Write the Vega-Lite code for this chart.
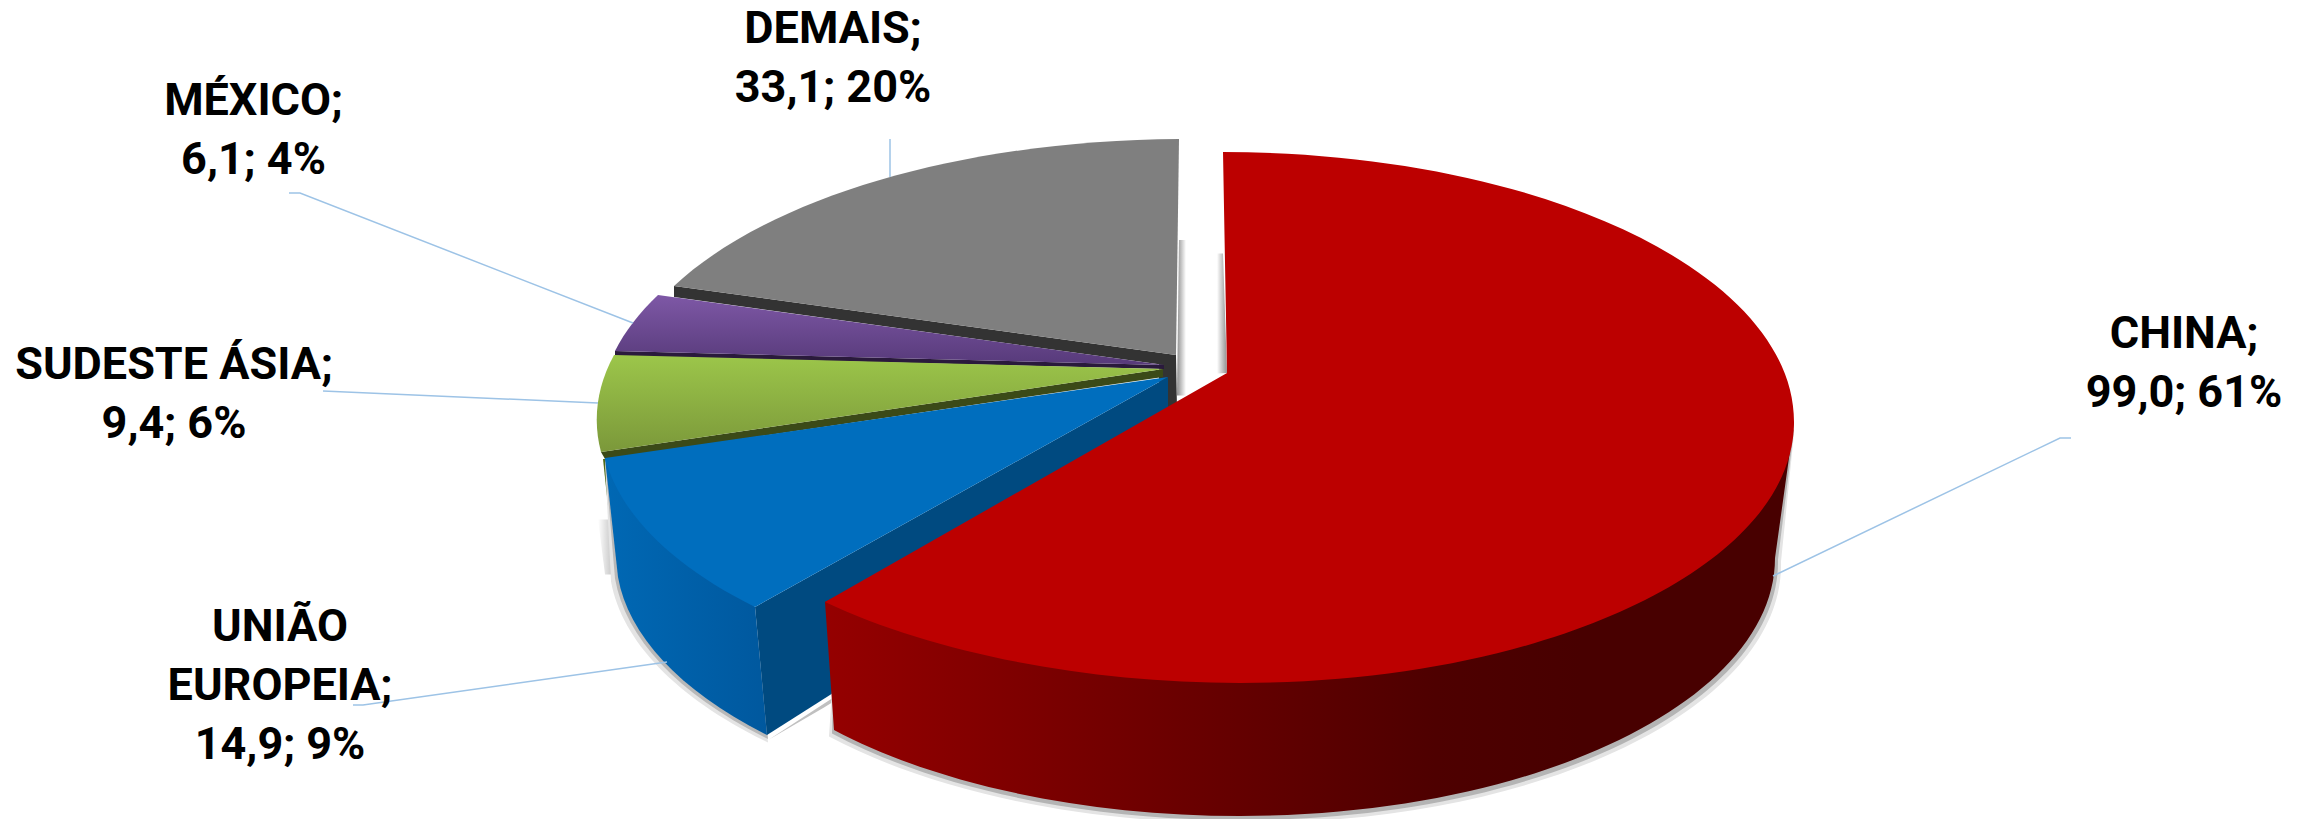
{"$schema":"https://vega.github.io/schema/vega-lite/v6.json","width":2308,"height":819,"padding":0,"autosize":{"type":"none"},"background":"#ffffff","config":{"view":{"stroke":null}},"data":{"values":[{"pais":"CHINA","valor":99.0,"pct":61,"rotulo":"CHINA;\n99,0; 61%"},{"pais":"UNIÃO EUROPEIA","valor":14.9,"pct":9,"rotulo":"UNIÃO\nEUROPEIA;\n14,9; 9%"},{"pais":"SUDESTE ÁSIA","valor":9.4,"pct":6,"rotulo":"SUDESTE ÁSIA;\n9,4; 6%"},{"pais":"MÉXICO","valor":6.1,"pct":4,"rotulo":"MÉXICO;\n6,1; 4%"},{"pais":"DEMAIS","valor":33.1,"pct":20,"rotulo":"DEMAIS;\n33,1; 20%"}]},"layer":[
{"transform":[{"filter":"datum.pais==='DEMAIS'"}],"mark":{"type":"point","filled":true,"opacity":1,"size":4,"strokeWidth":0,"shape":"M25 -169.5 L32 -169.5 L32 -14 L23 -14 Z","fill":{"gradient":"linear","x1":0,"x2":1,"y1":0,"y2":0,"stops":[{"offset":0,"color":"#8f8f8f"},{"offset":1,"color":"#ffffff"}]}}},
{"transform":[{"filter":"datum.pais==='CHINA'"}],"mark":{"type":"point","filled":true,"opacity":1,"size":4,"strokeWidth":0,"shape":"M63 -156 L69 -156 L73 -36.5 L63 -36 Z","fill":{"gradient":"linear","x1":0,"x2":1,"y1":0,"y2":0,"stops":[{"offset":0,"color":"#ffffff"},{"offset":1,"color":"#8f8f8f"}]}}},
{"transform":[{"filter":"datum.pais==='DEMAIS'"}],"mark":{"type":"point","filled":true,"opacity":1,"size":4,"strokeWidth":0,"fill":"#333333","shape":"M-480 -123.5 L22 -54.5 L23 0 L5 0 L5 -45.2 L-480 -112.5 Z"}},
{"transform":[{"filter":"datum.pais==='DEMAIS'"}],"mark":{"type":"point","filled":true,"opacity":1,"size":4,"strokeWidth":0,"fill":"#7f7f7f","shape":"M25 -270.5 L22 -54.5 L-480 -123.5 A571 265 0 0 1 25 -270.5 Z"}},
{"transform":[{"filter":"datum.pais==='MÉXICO'"}],"mark":{"type":"point","filled":true,"opacity":1,"size":4,"strokeWidth":0,"fill":"#2a1a3c","shape":"M-539 -58.5 L10 -44.5 L10 -40.5 L-539 -53.5 Z"}},
{"transform":[{"filter":"datum.pais==='MÉXICO'"}],"mark":{"type":"point","filled":true,"opacity":1,"size":4,"strokeWidth":0,"shape":"M-496 -114.5 L10 -44.5 L-539 -58.5 A571 265 0 0 1 -496 -114.5 Z","fill":{"gradient":"linear","x1":0,"x2":0,"y1":0,"y2":1,"stops":[{"offset":0,"color":"#7e58a6"},{"offset":1,"color":"#573a7a"}]}}},
{"transform":[{"filter":"datum.pais==='SUDESTE ÁSIA'"}],"mark":{"type":"point","filled":true,"opacity":1,"size":4,"strokeWidth":0,"shape":"M-556 110 L-549 165 L-535 165 L-540 110 Z","fill":{"gradient":"linear","x1":0,"x2":1,"y1":0,"y2":0,"stops":[{"offset":0,"color":"#ffffff"},{"offset":0.7,"color":"#c4c4c4"},{"offset":1,"color":"#c4c4c4"}]}}},
{"transform":[{"filter":"datum.pais==='SUDESTE ÁSIA'"}],"mark":{"type":"point","filled":true,"opacity":1,"size":4,"strokeWidth":0,"fill":"#4f6a1a","shape":"M-551 49.5 L-539 162.5 L-530 162.5 L-530 49.5 Z"}},
{"transform":[{"filter":"datum.pais==='SUDESTE ÁSIA'"}],"mark":{"type":"point","filled":true,"opacity":1,"size":4,"strokeWidth":0,"fill":"#3b4a18","shape":"M-553 42.5 L9 -40.5 L9 -32.5 L-549 49.5 Z"}},
{"transform":[{"filter":"datum.pais==='SUDESTE ÁSIA'"}],"mark":{"type":"point","filled":true,"opacity":1,"size":4,"strokeWidth":0,"shape":"M-540 -54.5 L9 -40.5 L-553 42.5 A571 265 0 0 1 -540 -54.5 Z","fill":{"gradient":"linear","x1":0,"x2":0,"y1":0,"y2":1,"stops":[{"offset":0,"color":"#9cc64a"},{"offset":1,"color":"#7b983a"}]}}},
{"transform":[{"filter":"datum.pais==='UNIÃO EUROPEIA'"}],"mark":{"type":"point","filled":true,"opacity":1,"size":4,"strokeWidth":0,"fill":"#e4e4e4","shape":"M-399 204 L-386 333 A560 263 0 0 1 -543 172 L-549 52 Z"}},
{"transform":[{"filter":"datum.pais==='UNIÃO EUROPEIA'"}],"mark":{"type":"point","filled":true,"opacity":1,"size":4,"strokeWidth":0,"fill":"#b8b8b8","shape":"M-399 200 L-386 329.5 A560 263 0 0 1 -539 169 L-549 50 Z"}},
{"transform":[{"filter":"datum.pais==='UNIÃO EUROPEIA'"}],"mark":{"type":"point","filled":true,"opacity":1,"size":4,"strokeWidth":0,"fill":"#c0c0c0","shape":"M14 70 L-385 330 L-330 298 L14 85 Z"}},
{"transform":[{"filter":"datum.pais==='UNIÃO EUROPEIA'"}],"mark":{"type":"point","filled":true,"opacity":1,"size":4,"strokeWidth":0,"fill":"#004a80","shape":"M-399 197.5 L14 -32.5 L14 70.5 L-387 325.5 Z"}},
{"transform":[{"filter":"datum.pais==='UNIÃO EUROPEIA'"}],"mark":{"type":"point","filled":true,"opacity":1,"size":4,"strokeWidth":0,"shape":"M-399 197.5 L-387 325.5 A560 263 0 0 1 -536 167.5 L-549 48.5 Z","fill":{"gradient":"linear","x1":0,"x2":1,"y1":0,"y2":0,"stops":[{"offset":0,"color":"#0068b4"},{"offset":1,"color":"#00589e"}]}}},
{"transform":[{"filter":"datum.pais==='UNIÃO EUROPEIA'"}],"mark":{"type":"point","filled":true,"opacity":1,"size":4,"strokeWidth":0,"fill":"#006ebe","shape":"M14 -32.5 L-399 197.5 A571 265 0 0 1 -549 48.5 Z"}},
{"transform":[{"filter":"datum.pais==='CHINA'"}],"mark":{"type":"point","filled":true,"opacity":1,"size":4,"strokeWidth":0,"fill":"#e4e4e4","shape":"M-320 250 L-325 327 A545 258 0 0 0 86 413.5 A535 258 0 0 0 627 152 L640 24 Z"}},
{"transform":[{"filter":"datum.pais==='CHINA'"}],"mark":{"type":"point","filled":true,"opacity":1,"size":4,"strokeWidth":0,"fill":"#b4b4b4","shape":"M-320 250 L-322 324 A545 258 0 0 0 86 410.5 A535 258 0 0 0 624 150 L640 20 Z"}},
{"transform":[{"filter":"datum.pais==='CHINA'"}],"mark":{"type":"point","filled":true,"opacity":1,"size":4,"strokeWidth":0,"shape":"M-329 192.5 L-320 320.5 A545 258 0 0 0 86 406.5 A535 258 0 0 0 621 148.5 L640 12.5 L69 -9.5 Z","fill":{"gradient":"linear","x1":0,"x2":1,"y1":0,"y2":0,"stops":[{"offset":0,"color":"#950000"},{"offset":0.37,"color":"#6a0000"},{"offset":0.63,"color":"#4e0000"},{"offset":0.78,"color":"#480000"},{"offset":1,"color":"#480000"}]}}},
{"transform":[{"filter":"datum.pais==='CHINA'"}],"mark":{"type":"point","filled":true,"opacity":1,"size":4,"strokeWidth":0,"fill":"#bc0000","shape":"M69 -257.5 A571 270 0 0 1 640 12.5 A554 261 0 0 1 86 273.5 A585 265 0 0 1 -329 192.5 L73 -36.5 Z"}},
{"transform":[{"filter":"datum.pais==='CHINA'"}],"mark":{"type":"point","filled":false,"opacity":1,"size":4,"strokeWidth":1.5,"stroke":"#9dc3e6","shape":"M619 166.5 L906 28.5 L917 28.5"}},
{"transform":[{"filter":"datum.pais==='MÉXICO'"}],"mark":{"type":"point","filled":false,"opacity":1,"size":4,"strokeWidth":1.5,"stroke":"#9dc3e6","shape":"M-865 -216.5 L-854 -216.5 L-521 -86.5"}},
{"transform":[{"filter":"datum.pais==='DEMAIS'"}],"mark":{"type":"point","filled":false,"opacity":1,"size":4,"strokeWidth":1.5,"stroke":"#9dc3e6","shape":"M-264 -270.5 L-264 -232.5"}},
{"transform":[{"filter":"datum.pais==='SUDESTE ÁSIA'"}],"mark":{"type":"point","filled":false,"opacity":1,"size":4,"strokeWidth":1.5,"stroke":"#9dc3e6","shape":"M-831 -18.5 L-556 -6.5"}},
{"transform":[{"filter":"datum.pais==='UNIÃO EUROPEIA'"}],"mark":{"type":"point","filled":false,"opacity":1,"size":4,"strokeWidth":1.5,"stroke":"#9dc3e6","shape":"M-801 295.5 L-791 295.5 L-487 252.5"}},
{"mark":{"type":"text","font":"Roboto","fontWeight":"bold","fontSize":45,"align":"center","baseline":"alphabetic","lineBreak":"\n","lineHeight":59,"color":"#000000"},"encoding":{"text":{"field":"rotulo","type":"nominal"},"x":{"field":"valor","type":"quantitative","axis":null,"scale":{"domain":[6.1,9.4,14.9,33.1,99.0],"range":[253.5,174,280,833,2184],"zero":false,"nice":false}},"y":{"field":"valor","type":"quantitative","axis":null,"scale":{"domain":[6.1,9.4,14.9,33.1,99.0],"range":[115,379,641,43,348],"zero":false,"nice":false}}}}
]}
